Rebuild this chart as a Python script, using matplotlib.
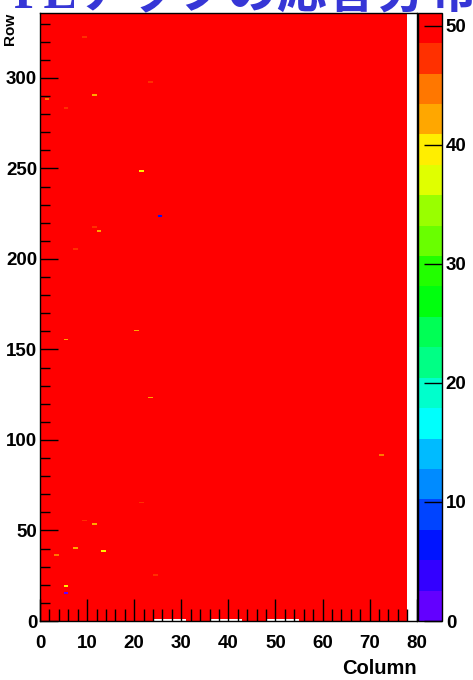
import colorsys
import numpy as np
import matplotlib
matplotlib.use("Agg")
import matplotlib.pyplot as plt
from matplotlib.colors import ListedColormap, BoundaryNorm
from matplotlib.ticker import MultipleLocator

# ---------------- data ----------------
title = "FEチップの応答分布"
x_label = "Column"
y_label = "Row"

n_cols = 80            # histogram column bins (0..80)
n_rows = 336           # histogram row bins (0..336)
active_cols = 78       # columns that contain hits
base_value = 50        # hits in a normal pixel
z_max = 51.1
n_levels = 20

spot_cols = [9, 23, 11, 1, 5, 21, 25, 11, 12, 7, 20, 5, 23, 21, 9, 11, 7, 13, 3, 24, 5, 5, 72]
spot_rows = [322, 297, 290, 288, 283, 248, 223, 217, 215, 205, 160, 155, 123, 65, 55, 53, 40, 38, 36, 25, 19, 15, 91]
spot_vals = [48, 48, 42, 44, 46, 40, 7, 46, 43, 48, 41, 42, 41, 46, 48, 43, 43, 40, 45, 46, 40, 2, 45]

empty_row0_cols = list(range(24, 31)) + list(range(36, 43)) + list(range(48, 55))

x_ticks = [0, 10, 20, 30, 40, 50, 60, 70, 80]
y_ticks = [0, 50, 100, 150, 200, 250, 300]
z_ticks = [0, 10, 20, 30, 40, 50]

# ---------------- build histogram ----------------
Z = np.full((n_rows, n_cols), np.nan)
Z[:, :active_cols] = base_value
for c, r, v in zip(spot_cols, spot_rows, spot_vals):
    Z[r, c] = v
for c in empty_row0_cols:
    Z[0, c] = np.nan
Zm = np.ma.masked_invalid(Z)

# ROOT "pretty" palette (violet -> red), 20 contour levels
idx = [int((k + 0.99) * 50 / n_levels) for k in range(n_levels)]
colors = [colorsys.hls_to_rgb(((280 - (i + 1) * 5.6) % 360) / 360.0, 0.5, 1.0) for i in idx]
cmap = ListedColormap(colors)
cmap.set_bad("white")
levels = np.linspace(0, z_max, n_levels + 1)
norm = BoundaryNorm(levels, cmap.N)

# ---------------- figure ----------------
W, H = 473, 680
fig = plt.figure(figsize=(W / 100, H / 100), dpi=100)
fig.patch.set_facecolor("white")

ax_l, ax_r, ax_t, ax_b = 40, 416.7, 12.7, 621
ax = fig.add_axes([ax_l / W, 1 - ax_b / H, (ax_r - ax_l) / W, (ax_b - ax_t) / H])
ax.set_facecolor("white")
mesh = ax.pcolormesh(np.arange(n_cols + 1), np.arange(n_rows + 1), Zm,
                     cmap=cmap, norm=norm, shading="flat")
ax.set_xlim(0, n_cols)
ax.set_ylim(0, n_rows)

fam = ["Liberation Sans", "DejaVu Sans"]
font = dict(family=fam, weight="bold", size=13.5)

ax.set_xticks(x_ticks)
ax.set_yticks(y_ticks)
ax.xaxis.set_minor_locator(MultipleLocator(2))
ax.yaxis.set_minor_locator(MultipleLocator(10))
ax.tick_params(axis="x", which="major", direction="in", length=16, width=1, pad=10)
ax.tick_params(axis="x", which="minor", direction="in", length=9, width=1)
ax.tick_params(axis="y", which="major", direction="in", length=13, width=1, pad=2)
ax.tick_params(axis="y", which="minor", direction="in", length=7, width=1)
ax.set_xticklabels([str(t) for t in x_ticks], fontdict=font)
ax.set_yticklabels([str(t) for t in y_ticks], fontdict=font)
for s in ax.spines.values():
    s.set_linewidth(1.0)
    s.set_color("black")

# colorbar
cb_l, cb_r = 418.3, 441.7
cax = fig.add_axes([cb_l / W, 1 - ax_b / H, (cb_r - cb_l) / W, (ax_b - ax_t) / H])
cb = fig.colorbar(mesh, cax=cax, ticks=z_ticks, boundaries=levels)
cb.outline.set_linewidth(1.0)
cax.tick_params(axis="y", which="major", direction="in", length=13, width=1, pad=3, right=True)
cax.tick_params(axis="y", which="minor", length=0)
cax.set_yticklabels([str(t) for t in z_ticks], fontdict=font)

# axis titles (ROOT style, at ends)
fig.text(ax_r / W, 1 - 669 / H, x_label, ha="right", va="center",
         fontsize=14.5, fontweight="bold", family=fam)
fig.text(10 / W, 1 - 13 / H, y_label, ha="center", va="top", rotation=90,
         fontsize=11, fontweight="bold", family=fam)

# slide title (cut off at top)
fig.text(13 / W, 1 - 7 / H, title, ha="left", va="baseline", fontsize=36,
         fontweight="bold", color="#3636d6",
         family=["Liberation Serif", "Noto Sans CJK JP"])

fig.savefig("out.png", dpi=100)
